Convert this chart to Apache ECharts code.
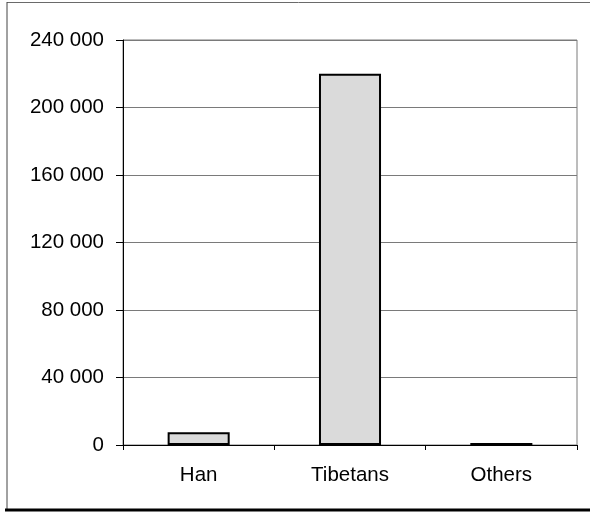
<!DOCTYPE html>
<html>
<head>
<meta charset="utf-8">
<script src="https://cdn.jsdelivr.net/npm/echarts@6/dist/echarts.min.js"></script>
<style>
  html, body { margin: 0; padding: 0; background: #fff; }
  #chart { width: 590px; height: 512px; }
</style>
</head>
<body>
<div id="chart"></div>
<script>
// Population by ethnic group
const categories = ['Han', 'Tibetans', 'Others'];
const population = [7500, 220000, 1200];
const yTicks = [0, 40000, 80000, 120000, 160000, 200000, 240000];

const FONT = '"Liberation Sans", Arial, sans-serif';

function spaced(v) {
  return String(v).replace(/\B(?=(\d{3})+(?!\d))/g, ' ');
}

const chart = echarts.init(document.getElementById('chart'), null, { renderer: 'canvas' });

chart.setOption({
  animation: false,
  backgroundColor: '#ffffff',
  grid: {
    left: 123, right: 13, top: 40, bottom: 67,
    show: true, borderColor: '#7a7a7a', borderWidth: 1,
    backgroundColor: 'transparent'
  },
  xAxis: {
    type: 'category',
    data: categories,
    axisLine: { lineStyle: { color: '#000', width: 1 } },
    axisTick: { show: true, length: 5, lineStyle: { color: '#000' } },
    axisLabel: { color: '#000', fontSize: 20.5, fontFamily: FONT, margin: 20 },
    splitLine: { show: false }
  },
  yAxis: {
    type: 'value',
    min: yTicks[0],
    max: yTicks[yTicks.length - 1],
    interval: yTicks[1] - yTicks[0],
    axisLine: { show: true, lineStyle: { color: '#000', width: 1 } },
    axisTick: { show: true, length: 7, lineStyle: { color: '#000' } },
    axisLabel: { color: '#000', fontSize: 20.5, fontFamily: FONT, margin: 19, formatter: spaced },
    splitLine: { show: true, lineStyle: { color: '#7a7a7a', width: 1 } }
  },
  series: [{
    type: 'bar',
    data: population,
    barWidth: '41%',
    itemStyle: { color: '#dadada', borderColor: '#000', borderWidth: 2 }
  }],
  graphic: [
    { type: 'line', shape: { x1: 7, y1: 2.5, x2: 590, y2: 2.5 }, style: { stroke: '#6a6a6a', lineWidth: 1 } },
    { type: 'line', shape: { x1: 7, y1: 2, x2: 7, y2: 510 }, style: { stroke: '#444', lineWidth: 1 } },
    { type: 'line', shape: { x1: 5, y1: 510, x2: 590, y2: 510 }, style: { stroke: '#000', lineWidth: 3 } }
  ]
});
</script>
</body>
</html>
